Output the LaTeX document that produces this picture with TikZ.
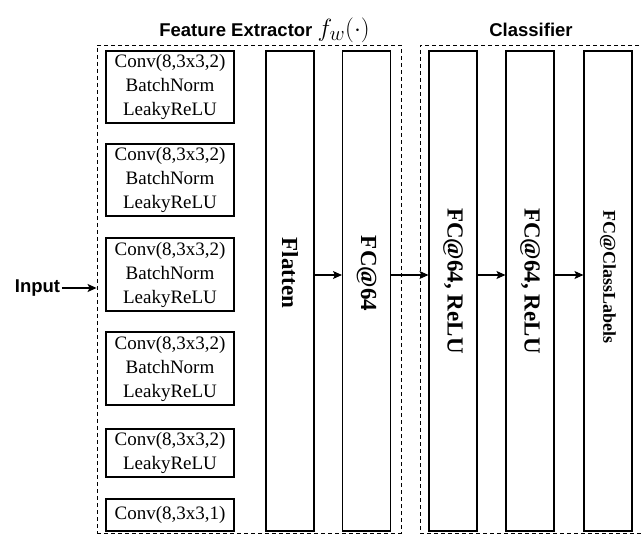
\documentclass[tikz,border=0pt]{standalone}
\usepackage{amsmath}
\usepackage{fontspec}
\setmainfont{Liberation Serif}
\newfontfamily\headfont{Liberation Sans}
\usepackage{tikz}
\usetikzlibrary{arrows.meta,positioning}

\begin{document}
\begin{tikzpicture}
	[x=1pt,y=1pt,
	convbox/.style={draw=black,line width=1.1pt,minimum width=128pt,
		inner sep=0pt,align=center,font=\fontsize{19}{24}\selectfont},
	colbox/.style={draw=black,line width=1.1pt,minimum width=48pt,
		minimum height=480pt,inner sep=0pt},
	coltext/.style={rotate=-90,inner sep=0pt,
		font=\fontsize{23}{26}\selectfont\bfseries},
	groupbox/.style={draw=black,line width=0.9pt,dash pattern=on 4pt off 3pt,
		inner sep=0pt},
	headtext/.style={anchor=base,font=\fontsize{18.5}{22}\selectfont\headfont\bfseries},
	arr/.style={-{Stealth[length=9pt,width=8pt,inset=2pt]},line width=1.1pt}]
	\clip (0,0) rectangle (642,-534);
	%---------------------gruppi tratteggiati------------
	\node[groupbox,minimum width=304pt,minimum height=488pt] (fe) at (249,-289) {};
	\node[groupbox,minimum width=240pt,minimum height=488pt] (cl) at (540,-289) {};
	\node[headtext] (fetitle) at (264.5,-37) {Feature Extractor {\fontsize{24.88}{26}\selectfont$f_w(\cdot)$}};
	\node[headtext] (cltitle) at (531,-37) {Classifier};
	%---------------------blocchi conv------------
	\node[convbox,minimum height=72pt] (c1) at (170,-87) {Conv(8,3x3,2)\\BatchNorm\\LeakyReLU};
	\node[convbox,minimum height=72pt] (c2) at (170,-180) {Conv(8,3x3,2)\\BatchNorm\\LeakyReLU};
	\node[convbox,minimum height=73pt] (c3) at (170,-274.5) {Conv(8,3x3,2)\\BatchNorm\\LeakyReLU};
	\node[convbox,minimum height=73pt] (c4) at (170,-368.5) {Conv(8,3x3,2)\\BatchNorm\\LeakyReLU};
	\node[convbox,minimum height=48pt] (c5) at (170,-453) {Conv(8,3x3,2)\\LeakyReLU};
	\node[convbox,minimum height=32pt] (c6) at (170,-515) {Conv(8,3x3,1)};
	%---------------------colonne------------
	\node[colbox] (flat) at (290,-291) {};
	\node[colbox] (fc64) at (366.5,-291) {};
	\node[colbox] (fcA) at (453,-291) {};
	\node[colbox] (fcB) at (530,-291) {};
	\node[colbox] (fcC) at (608,-291) {};
	\node[coltext] (flattxt) at (290,-273) {Flatten};
	\node[coltext] (fc64txt) at (366.5,-273.5) {FC@64};
	\node[coltext] (fcAtxt) at (453,-281) {FC@64, ReLU};
	\node[coltext] (fcBtxt) at (530,-281) {FC@64, ReLU};
	\node[coltext,font=\fontsize{18}{20}\selectfont\bfseries] (fcCtxt) at (608,-277) {FC@ClassLabels};
	%---------------------frecce------------
	\node[headtext,anchor=center,inner sep=1.5pt] (input) at (37.5,-288) {Input};
	\draw[arr] (input.east) -- (input.east -| fe.west);
	\coordinate (row) at (0,-275);
	\draw[arr] (flat.east |- row) -- (fc64.west |- row);
	\draw[arr] (fc64.east |- row) -- (fcA.west |- row);
	\draw[arr] (fcA.east |- row) -- (fcB.west |- row);
	\draw[arr] (fcB.east |- row) -- (fcC.west |- row);
\end{tikzpicture}
\end{document}
